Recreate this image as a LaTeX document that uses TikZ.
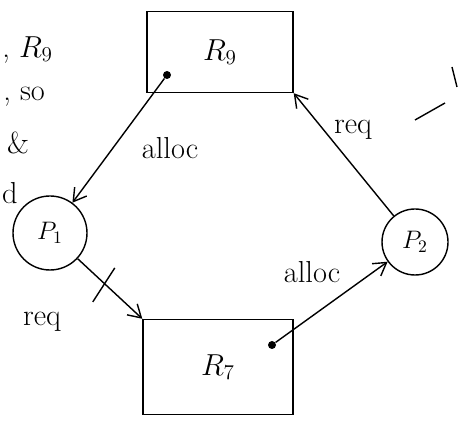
\documentclass[tikz,border=0pt]{standalone}
\usetikzlibrary{arrows.meta,positioning,calc}

\tikzset{
  res/.style={draw,thick,font=\LARGE},
  proc/.style={circle,draw,thick,font=\Large,inner sep=0pt},
  edge/.style={thick,-{Straight Barb[length=2.5mm,width=3mm]}},
  lbl/.style={font=\LARGE},
  pin/.style={circle,fill,inner sep=0pt,minimum size=1.6mm},
}

\begin{document}
\begin{tikzpicture}
  \useasboundingbox (0,0) rectangle (9.16,8.44);
  % resources and processes
  \node[res,minimum width=2.92cm,minimum height=1.62cm] (r9) at (4.40,7.40) {$R_9$};
  \node[res,minimum width=3.0cm,minimum height=1.9cm] (r7) at (4.36,1.10) {$R_7$};
  \node[proc,minimum size=1.48cm] (p1) at (1.00,3.78) {$P_1$};
  \node[proc,minimum size=1.32cm] (p2) at (8.30,3.60) {$P_2$};
  \node[pin] (d9) at (3.34,6.94) {};
  \node[pin] (d7) at (5.44,1.54) {};

  % edges
  \draw[edge] (d9) -- (p1);
  \draw[edge] (p1) -- coordinate[pos=0.42] (cut) (r7.north west);
  \draw[edge] (d7) -- (p2);
  \draw[edge] (p2) -- (r9.south east);
  \draw[thick] ($(cut)+(-0.24,-0.36)$) -- ($(cut)+(0.2,0.32)$);

  % labels
  \node[lbl] (a1) at (3.40,5.48) {alloc};
  \node[lbl] (q2) at (7.06,5.84) {req};
  \node[lbl] (a2) at (6.24,3.00) {alloc};
  \node[lbl] (q1) at (0.84,2.00) {req};

  % margin text
  \node[lbl,anchor=east,inner sep=1pt] (m1) at (1.10,7.44) {, $R_9$};
  \node[lbl,anchor=east,inner sep=1pt] (m2) at (0.94,6.50) {, so};
  \node[lbl,anchor=west,inner sep=1pt] (m3) at (0.10,5.58) {\&};
  \node[lbl,anchor=west,inner sep=1pt] (m4) at (0.00,4.58) {d};
  \draw[thick] (8.30,6.04) -- (8.90,6.38);
  \draw[thick] (9.04,7.10) -- (9.14,6.70);
\end{tikzpicture}
\end{document}
